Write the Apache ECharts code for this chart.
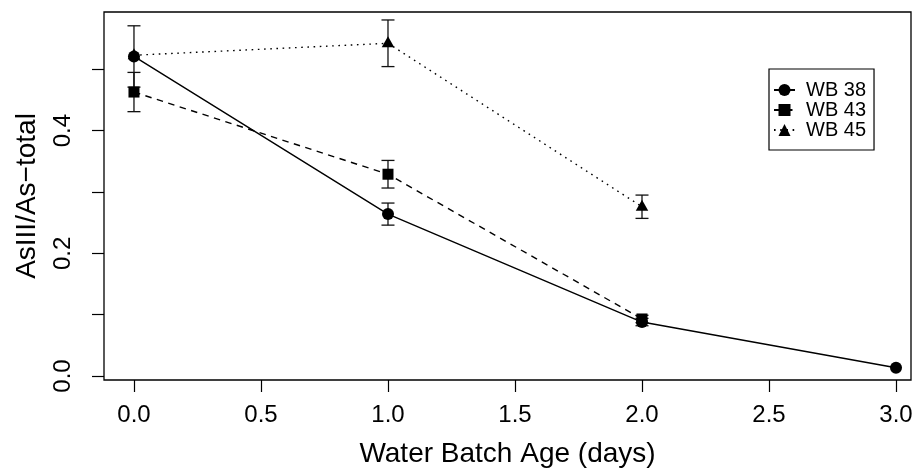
<!DOCTYPE html>
<html><head><meta charset="utf-8">
<script src="https://cdn.jsdelivr.net/npm/echarts@6/dist/echarts.min.js"></script>
<style>html,body{margin:0;padding:0;background:#fff}#c{width:917px;height:470px}</style>
</head><body><div id="c"></div>
<script>
const days = [0, 1, 2, 3];
const seriesNames = ['WB 38', 'WB 43', 'WB 45'];
const wb38 = [0.521, 0.264, 0.088, 0.0135];
const wb38Err = [0.050, 0.018, 0.006, 0];
const wb43 = [0.463, 0.329, 0.093];
const wb43Err = [0.032, 0.0225, 0.006];
const wb45 = [0.523, 0.5425, 0.276];
const wb45Err = [0, 0.038, 0.019];
const xTicks = [0, 0.5, 1, 1.5, 2, 2.5, 3];
const yTicks = [0, 0.1, 0.2, 0.3, 0.4, 0.5];
const yLabels = [0, 0.2, 0.4];
const xTitle = 'Water Batch Age (days)';
const yTitle = 'AsIII/As\u2212total';

const FONT = 'Liberation Sans, Arial, sans-serif';

function pts(vals) { return vals.map((v, i) => [days[i], v]); }
function errs(vals, e) { return vals.map((v, i) => [days[i], v - e[i], v + e[i]]); }

function renderErr(params, api) {
  const x = api.value(0), lo = api.value(1), hi = api.value(2);
  if (!(hi - lo > 0)) return null;
  const p1 = api.coord([x, hi]), p2 = api.coord([x, lo]);
  const w = 6.5;
  const style = { stroke: '#111', lineWidth: 1.3 };
  return { type: 'group', children: [
    { type: 'line', shape: { x1: p1[0], y1: p1[1], x2: p2[0], y2: p2[1] }, style },
    { type: 'line', shape: { x1: p1[0] - w, y1: p1[1], x2: p1[0] + w, y2: p1[1] }, style },
    { type: 'line', shape: { x1: p2[0] - w, y1: p2[1], x2: p2[0] + w, y2: p2[1] }, style }
  ]};
}
function errSeries(name, data) {
  return { type: 'custom', name, data, renderItem: renderErr, z: 1,
           encode: { x: 0, y: [1, 2] }, silent: true };
}

const chart = echarts.init(document.getElementById('c'), null, { renderer: 'canvas' });
chart.setOption({
  animation: false,
  backgroundColor: '#fff',
  grid: { left: 104, right: 6, top: 12, bottom: 90, show: true,
          containLabel: false, outerBoundsMode: 'none',
          borderColor: '#000', borderWidth: 1.3, backgroundColor: 'transparent' },
  xAxis: {
    type: 'value', min: -0.118, max: 3.059,
    axisLine: { show: false, onZero: false },
    splitLine: { show: false },
    axisTick: { show: true, length: 12, customValues: xTicks, lineStyle: { color: '#000', width: 1.2 } },
    axisLabel: { customValues: xTicks, margin: 23, fontSize: 24, color: '#000', fontFamily: FONT,
                 formatter: v => v.toFixed(1) },
    name: xTitle, nameLocation: 'middle', nameGap: 60,
    nameTextStyle: { fontSize: 28, color: '#000', fontFamily: FONT }
  },
  yAxis: {
    type: 'value', min: -0.0065, max: 0.5935,
    axisLine: { show: false, onZero: false },
    splitLine: { show: false },
    axisTick: { show: true, length: 12, customValues: yTicks, lineStyle: { color: '#000', width: 1.2 } },
    axisLabel: { customValues: yLabels, rotate: 90, margin: 29, fontSize: 24, color: '#000', fontFamily: FONT,
                 formatter: v => v.toFixed(1) },
    name: yTitle, nameLocation: 'middle', nameGap: 63, nameRotate: 90,
    nameTextStyle: { fontSize: 28, color: '#000', fontFamily: FONT }
  },
  legend: {
    orient: 'vertical', left: 769, top: 69,
    data: seriesNames,
    itemWidth: 21, itemHeight: 15, itemGap: 0,
    padding: [11, 8, 10, 4],
    borderColor: '#000', borderWidth: 1.2,
    selectedMode: false,
    textStyle: { fontSize: 20, lineHeight: 20, color: '#000', fontFamily: FONT, padding: [0, 0, 0, 6] }
  },
  series: [
    errSeries('err38', errs(wb38, wb38Err)),
    errSeries('err43', errs(wb43, wb43Err)),
    errSeries('err45', errs(wb45, wb45Err)),
    { type: 'line', name: seriesNames[2], data: pts(wb45), z: 2,
      symbol: 'triangle', symbolSize: [12.5, 11], symbolOffset: [0, -1.6],
      itemStyle: { color: '#000' },
      lineStyle: { color: '#000', width: 1.4, type: [1.6, 4.6], cap: 'butt' } },
    { type: 'line', name: seriesNames[1], data: pts(wb43), z: 3,
      symbol: 'rect', symbolSize: 11,
      itemStyle: { color: '#000' },
      lineStyle: { color: '#000', width: 1.4, type: [6.5, 5.5] } },
    { type: 'line', name: seriesNames[0], data: pts(wb38), z: 4,
      symbol: 'circle', symbolSize: 12,
      itemStyle: { color: '#000' },
      lineStyle: { color: '#000', width: 1.4, type: 'solid' } }
  ]
});
</script></body></html>
